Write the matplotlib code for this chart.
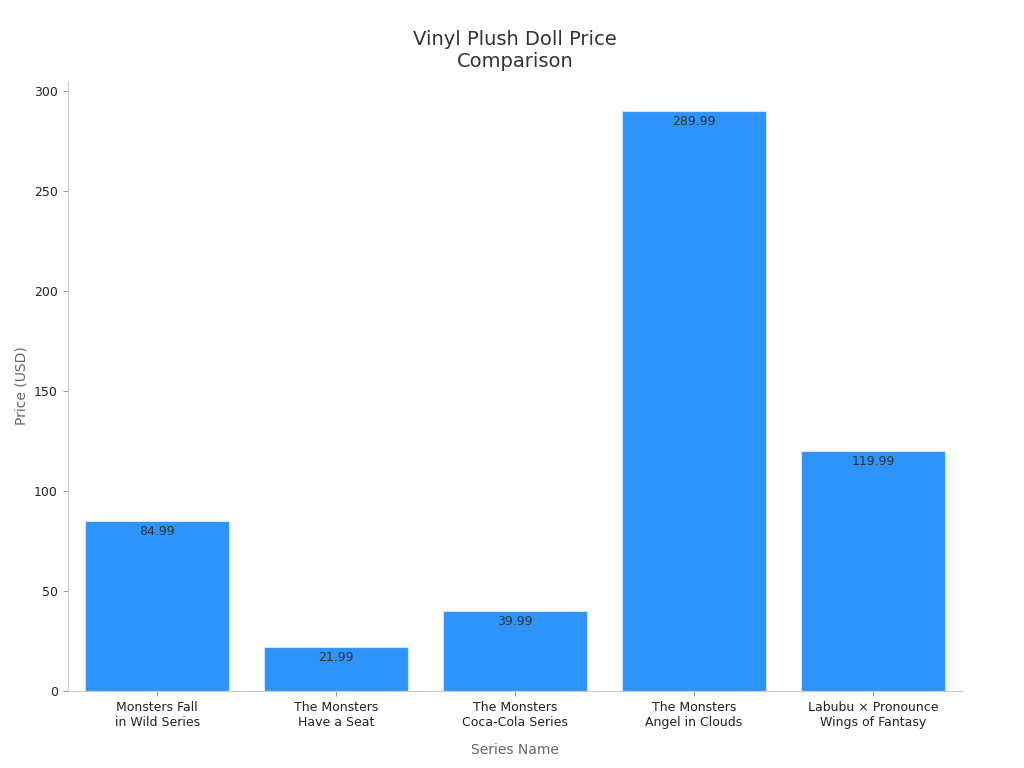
import matplotlib
matplotlib.use("Agg")
import matplotlib.pyplot as plt

categories = [
    "Monsters Fall\nin Wild Series",
    "The Monsters\nHave a Seat",
    "The Monsters\nCoca-Cola Series",
    "The Monsters\nAngel in Clouds",
    "Labubu × Pronounce\nWings of Fantasy",
]
prices = [84.99, 21.99, 39.99, 289.99, 119.99]

plt.rcParams["font.family"] = ["DejaVu Sans"]

fig, ax = plt.subplots(figsize=(10.24, 7.68), dpi=100)
fig.subplots_adjust(left=0.066, right=0.94, top=0.895, bottom=0.1)

x = range(len(categories))
bars = ax.bar(x, prices, width=0.8, color="#2e93fa", edgecolor="#cfe3fb", linewidth=0.8)
for b, v in zip(bars, prices):
    ax.text(b.get_x() + b.get_width() / 2, v - 2, f"{v:.2f}",
            ha="center", va="top", fontsize=9, color="#333333")

ax.set_xticks(list(x))
ax.set_xticklabels(categories, fontsize=9, color="#222222")
ax.set_ylim(0, 305)
ax.set_xlim(-0.5, 4.5)
ax.set_yticks(range(0, 301, 50))
ax.tick_params(axis="y", labelsize=9, colors="#222222")
ax.tick_params(axis="both", color="#999999")
ax.set_xlabel("Series Name", fontsize=10, color="#666666", labelpad=10)
ax.set_ylabel("Price (USD)", fontsize=10, color="#666666")
ax.set_title("Vinyl Plush Doll Price\nComparison", fontsize=14, color="#333333", pad=10)
for s in ("top", "right"):
    ax.spines[s].set_visible(False)
for s in ("left", "bottom"):
    ax.spines[s].set_color("#cccccc")

fig.savefig("out.png")
